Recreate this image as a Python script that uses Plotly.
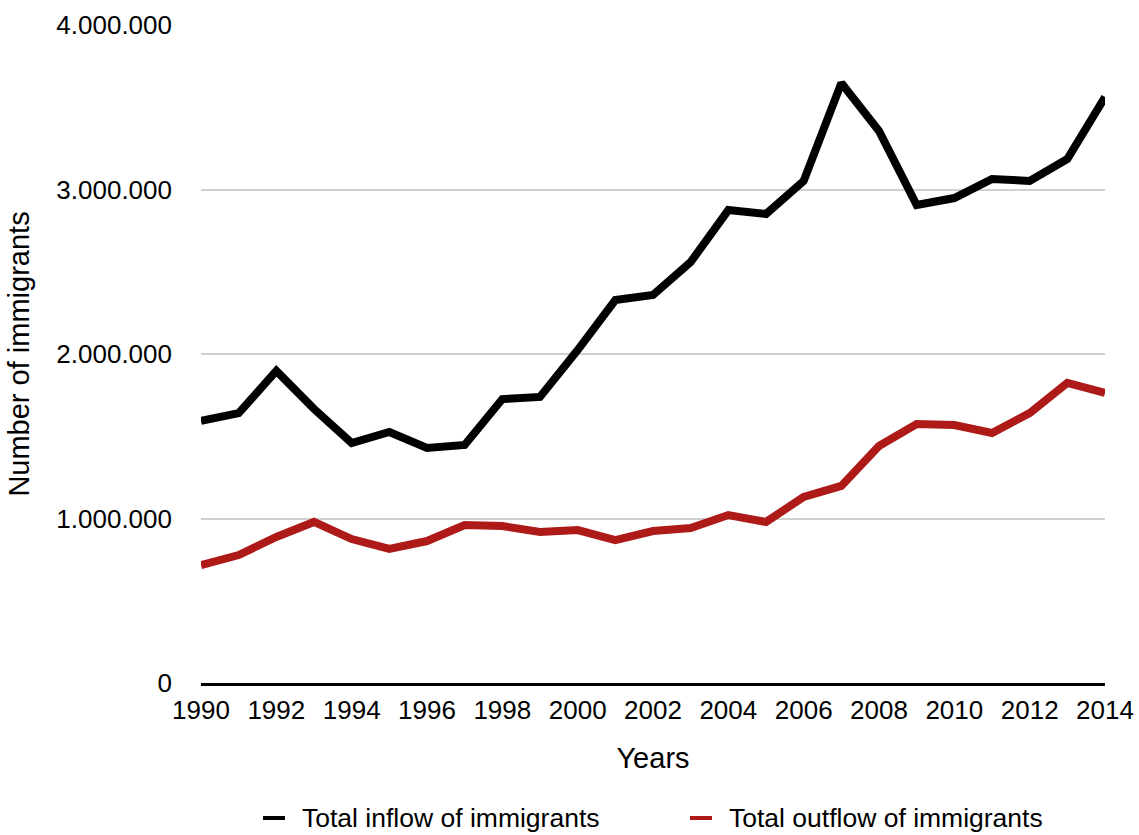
import plotly.graph_objects as go

years = list(range(1990, 2015))
inflow = [1593000, 1641000, 1897000, 1666000, 1459000, 1526000, 1429000, 1447000,
          1726000, 1739000, 2024000, 2328000, 2359000, 2559000, 2875000, 2851000,
          3052000, 3647000, 3356000, 2906000, 2948000, 3064000, 3052000, 3185000, 3562000]
outflow = [717000, 778000, 888000, 979000, 875000, 815000, 863000, 960000,
           954000, 918000, 930000, 869000, 924000, 942000, 1021000, 979000,
           1131000, 1198000, 1441000, 1574000, 1568000, 1520000, 1641000, 1824000, 1763000]
series_names = ["Total inflow of immigrants", "Total outflow of immigrants"]
colors = ["#000000", "#AE1A17"]
y_ticks = [0, 1000000, 2000000, 3000000, 4000000]
x_ticks = list(range(1990, 2015, 2))

FONT = "Liberation Sans, Arial, Helvetica, sans-serif"
FS_TICK = 26
FS_TITLE = 29
FS_LEG = 26.5

fig = go.Figure()
for vals, name, col in zip([inflow, outflow], series_names, colors):
    fig.add_trace(go.Scatter(x=years, y=vals, mode="lines", name=name,
                             line=dict(color=col, width=8), showlegend=False))

# manual legend (paper coords relative to plot area)
legend_pos = [(0.0686, 0.0929, 0.1095), (0.5409, 0.5653, 0.5819)]
ly = -0.2052
for (x0, x1, xt), name, col in zip(legend_pos, series_names, colors):
    fig.add_shape(type="line", xref="paper", yref="paper", x0=x0, x1=x1, y0=ly, y1=ly,
                  line=dict(color=col, width=4))
    fig.add_annotation(xref="paper", yref="paper", x=xt, y=ly, text=name, showarrow=False,
                       xanchor="left", yanchor="middle", font=dict(size=FS_LEG, color="black"))

fig.update_layout(
    width=1139, height=835,
    margin=dict(l=201, r=34, t=25, b=152),
    paper_bgcolor="white", plot_bgcolor="white",
    separators=",.",
    showlegend=False,
    font=dict(family=FONT, size=FS_TICK, color="black"),
    xaxis=dict(range=[1990, 2014], tickvals=x_ticks, ticks="", showgrid=False,
               showline=True, linecolor="black", linewidth=3, zeroline=False,
               tickfont=dict(size=FS_TICK), ticklabelstandoff=2, automargin=False,
               title=dict(text="Years", font=dict(size=FS_TITLE), standoff=24)),
    yaxis=dict(range=[0, 4000000], tickvals=y_ticks, tickformat=",d",
               showgrid=True, gridcolor="#D0D0D0", gridwidth=1.5,
               zeroline=False, showline=False, ticks="", automargin=False,
               tickfont=dict(size=FS_TICK), ticklabelstandoff=28,
               title=dict(text="Number of immigrants", font=dict(size=FS_TITLE), standoff=18)),
)

fig.write_html("out.html")
